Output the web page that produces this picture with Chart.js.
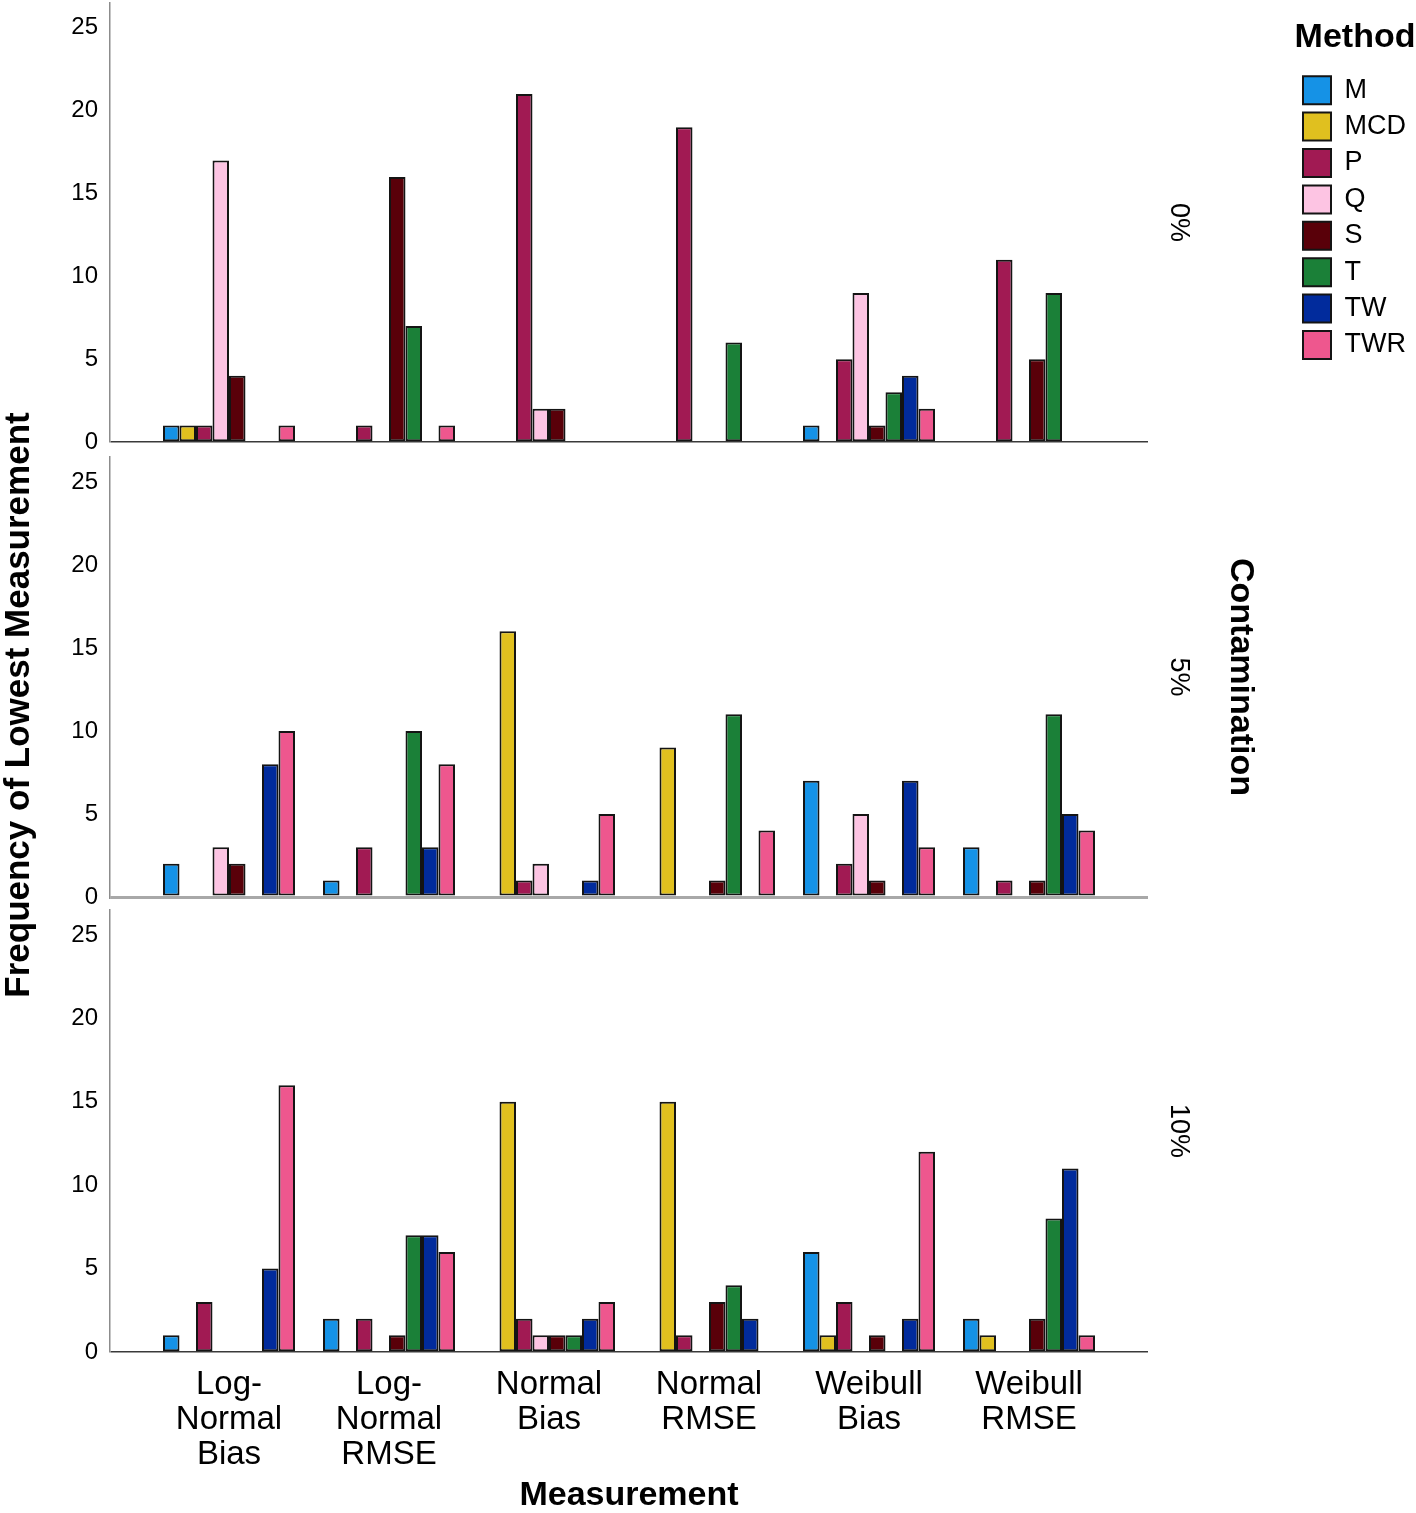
<!DOCTYPE html>
<html>
<head>
<meta charset="utf-8">
<script src="https://cdn.jsdelivr.net/npm/chart.js@4.4.1/dist/chart.umd.min.js"></script>
<style>
  html, body { margin: 0; padding: 0; background: #fff; }
  #wrap { width: 1416px; height: 1513px; }
</style>
</head>
<body>
<div id="wrap"><canvas id="bars" width="1416" height="1513"></canvas></div>
<script>
const categories = ['Log-Normal Bias', 'Log-Normal RMSE', 'Normal Bias', 'Normal RMSE', 'Weibull Bias', 'Weibull RMSE'];
const categoryLines = [['Log-', 'Normal', 'Bias'], ['Log-', 'Normal', 'RMSE'], ['Normal', 'Bias'], ['Normal', 'RMSE'], ['Weibull', 'Bias'], ['Weibull', 'RMSE']];
const methods = ['M', 'MCD', 'P', 'Q', 'S', 'T', 'TW', 'TWR'];
const contamination = ['0%', '5%', '10%'];
const yTicks = [0, 5, 10, 15, 20, 25];

// one row per method (M, MCD, P, Q, S, T, TW, TWR), one column per measurement
const counts0 = [
  [1, 0, 0, 0, 1, 0],
  [1, 0, 0, 0, 0, 0],
  [1, 1, 21, 19, 5, 11],
  [17, 0, 2, 0, 9, 0],
  [4, 16, 2, 0, 1, 5],
  [0, 7, 0, 6, 3, 9],
  [0, 0, 0, 0, 4, 0],
  [1, 1, 0, 0, 2, 0]
];
const counts5 = [
  [2, 1, 0, 0, 7, 3],
  [0, 0, 16, 9, 0, 0],
  [0, 3, 1, 0, 2, 1],
  [3, 0, 2, 0, 5, 0],
  [2, 0, 0, 1, 1, 1],
  [0, 10, 0, 11, 0, 11],
  [8, 3, 1, 0, 7, 5],
  [10, 8, 5, 4, 3, 4]
];
const counts10 = [
  [1, 2, 0, 0, 6, 2],
  [0, 0, 15, 15, 1, 1],
  [3, 2, 2, 1, 3, 0],
  [0, 0, 1, 0, 0, 0],
  [0, 1, 1, 3, 1, 2],
  [0, 7, 1, 4, 0, 8],
  [5, 7, 2, 2, 2, 11],
  [16, 6, 3, 0, 12, 1]
];

const methodColors = ['#1592e6', '#e0c01f', '#a11a53', '#fdc4e3', '#590009', '#1b8038', '#012b9c', '#ee578e'];
const fontFamily = '"Liberation Sans", Arial, sans-serif';

Chart.defaults.font.family = fontFamily;
Chart.defaults.color = '#000';

const plotRight = 1148;

const datasets = [];
[counts0, counts5, counts10].forEach((counts, p) => {
  counts.forEach((vals, m) => {
    datasets.push({
      label: methods[m],
      stack: methods[m],
      yAxisID: 'y' + p,
      data: vals.map((v, i) => ({ x: i + 1, y: v })),
      backgroundColor: methodColors[m],
      borderColor: '#141414',
      borderWidth: 2,
      borderSkipped: false,
      categoryPercentage: 0.825,
      barPercentage: 1.0
    });
  });
});

// keep the stacked left axes at a fixed width and stop them adding top/bottom label room
function fixLeft(s) {
  s.width = 110;
  s.paddingTop = 0;
  s.paddingBottom = 0;
}

function panelAxis(order, size, baseColor, baseWidth) {
  return {
    type: 'linear',
    position: 'left',
    stack: 'panels',
    stackWeight: size,
    weight: order,
    min: 0,
    max: 26.5,
    afterBuildTicks: s => { s.ticks = yTicks.map(v => ({ value: v })); },
    afterFit: fixLeft,
    ticks: { font: { size: 24 }, padding: 12, color: '#000' },
    grid: {
      drawTicks: false,
      color: c => (c.tick && c.tick.value === 0 ? baseColor : 'rgba(0,0,0,0)'),
      lineWidth: baseWidth
    },
    border: { color: '#8c8c8c', width: 1.5 }
  };
}

function gapAxis(order, size) {
  return {
    type: 'linear',
    position: 'left',
    stack: 'panels',
    stackWeight: size,
    weight: order,
    afterFit: fixLeft,
    ticks: { display: false },
    grid: { display: false, drawTicks: false },
    border: { display: false }
  };
}

// panel labels and the titles that span several panels
const panelText = {
  id: 'panelText',
  afterDraw(chart) {
    const ctx = chart.ctx;
    const area = chart.chartArea;
    const rotated = (text, x, y, angle, css) => {
      ctx.save();
      ctx.translate(x, y);
      ctx.rotate(angle);
      ctx.font = css;
      ctx.fillStyle = '#000';
      ctx.textAlign = 'center';
      ctx.textBaseline = 'middle';
      ctx.fillText(text, 0, 0);
      ctx.restore();
    };
    contamination.forEach((label, i) => {
      const s = chart.scales['y' + i];
      rotated(label, area.right + 30, (s.top + s.bottom) / 2, Math.PI / 2, '27px ' + fontFamily);
    });
    const mid = chart.scales.y1;
    rotated('Contamination', area.right + 92, (mid.top + mid.bottom) / 2, Math.PI / 2, 'bold 34px ' + fontFamily);
    rotated('Frequency of Lowest Measurement', 19, 705, -Math.PI / 2, 'bold 35px ' + fontFamily);
  }
};

new Chart(document.getElementById('bars'), {
  type: 'bar',
  data: { datasets: datasets },
  plugins: [panelText],
  options: {
    responsive: false,
    animation: false,
    devicePixelRatio: 1,
    layout: { padding: { top: 3, left: 0, right: 0, bottom: 0 } },
    plugins: {
      tooltip: { enabled: false },
      legend: {
        position: 'right',
        align: 'start',
        maxWidth: 300,
        labels: {
          boxWidth: 28,
          boxHeight: 28,
          padding: 8.4,
          font: { size: 27 },
          color: '#000',
          filter: item => item.datasetIndex < methods.length
        },
        title: {
          display: true,
          text: 'Method',
          position: 'start',
          color: '#000',
          font: { size: 34, weight: 'bold' },
          padding: { top: 18, bottom: 6 }
        }
      }
    },
    scales: {
      x: {
        type: 'linear',
        position: 'bottom',
        offset: false,
        min: 0.25625,
        max: 6.74375,
        afterBuildTicks: s => { s.ticks = categories.map((c, i) => ({ value: i + 1 })); },
        afterFit: s => { s.height = 161; },
        grid: { display: false, drawTicks: false, offset: false },
        border: { display: false },
        ticks: {
          autoSkip: false,
          maxRotation: 0,
          padding: 15,
          color: '#000',
          font: { size: 33, lineHeight: 1.06 },
          callback: v => categoryLines[v - 1]
        },
        title: {
          display: true,
          text: 'Measurement',
          color: '#000',
          font: { size: 34, weight: 'bold', lineHeight: 1 },
          padding: { top: 0, bottom: 0 }
        }
      },
      y0: panelAxis(5, 439, '#3a3a3a', 1.5),
      gA: gapAxis(4, 15),
      y1: panelAxis(3, 440, '#a8a8a8', 3),
      gB: gapAxis(2, 13),
      y2: panelAxis(1, 442, '#3a3a3a', 1.5),
      pad: {
        type: 'linear',
        position: 'right',
        afterFit: s => {
          s.width = Math.max(0, s.chart.width - s.chart.legend.width - plotRight);
          s.paddingTop = 0;
          s.paddingBottom = 0;
        },
        ticks: { display: false },
        grid: { display: false, drawTicks: false },
        border: { display: false }
      }
    }
  }
});
</script>
</body>
</html>
